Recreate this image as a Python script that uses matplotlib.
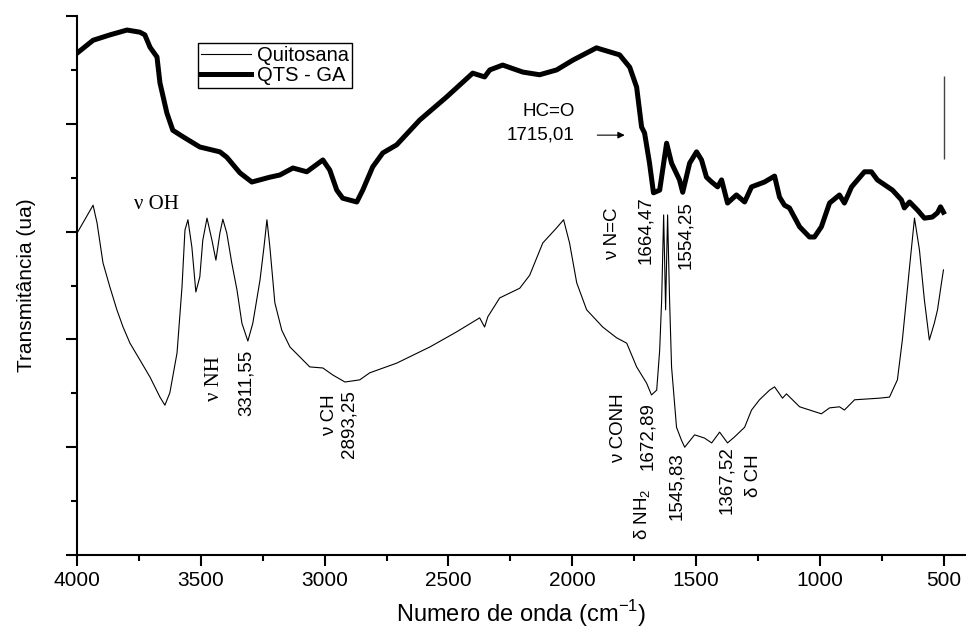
import numpy as np
import matplotlib
matplotlib.use('Agg')
import matplotlib.pyplot as plt
from matplotlib.ticker import MultipleLocator, NullFormatter

plt.rcParams['font.family'] = ['Liberation Sans', 'DejaVu Sans']
plt.rcParams['mathtext.fontset'] = 'custom'
plt.rcParams['mathtext.rm'] = 'Liberation Sans'

# QTS - GA (thick curve), wavenumber (cm-1) and transmittance (ua)
qts_wn = [4000, 3935, 3867, 3798, 3746, 3726, 3705, 3677, 3665, 3637, 3613, 3572,
          3504, 3423, 3395, 3342, 3294, 3221, 3181, 3128, 3072, 3007, 2979, 2951,
          2927, 2870, 2846, 2806, 2765, 2709, 2616, 2507, 2402, 2354, 2333, 2281,
          2200, 2132, 2063, 1998, 1902, 1889, 1809, 1768, 1740, 1720,
          1708, 1688, 1672, 1647, 1619, 1599, 1567, 1554, 1526, 1498, 1478, 1458,
          1437, 1413, 1397, 1373, 1337, 1304, 1276, 1224, 1183, 1163, 1143, 1123,
          1082, 1042, 1022, 994, 961, 921, 901, 872, 820, 792, 768, 707, 671, 659,
          638, 606, 578, 546, 525, 513, 501]
qts_t = [9.31, 9.55, 9.65, 9.74, 9.70, 9.65, 9.42, 9.24, 8.76, 8.20, 7.88, 7.76,
         7.57, 7.48, 7.38, 7.09, 6.92, 7.01, 7.05, 7.18, 7.11, 7.33, 7.14, 6.77,
         6.62, 6.55, 6.77, 7.20, 7.46, 7.61, 8.07, 8.50, 8.94, 8.87, 9.00, 9.09,
         8.96, 8.91, 9.00, 9.18, 9.41, 9.39, 9.28, 9.05, 8.68, 7.94,
         7.83, 7.27, 6.72, 6.77, 7.64, 7.27, 6.96, 6.73, 7.27, 7.48, 7.33, 7.01,
         6.92, 6.83, 6.96, 6.53, 6.68, 6.55, 6.83, 6.92, 7.03, 6.64, 6.49, 6.44,
         6.09, 5.90, 5.90, 6.09, 6.53, 6.68, 6.53, 6.83, 7.11, 7.11, 6.96, 6.77, 6.59, 6.44,
         6.55, 6.40, 6.25, 6.27, 6.35, 6.46, 6.36]

# Quitosana (thin curve)
qui_wn = [4000, 3935, 3919, 3895, 3867, 3839, 3814, 3786, 3746, 3705, 3665, 3645,
          3625, 3596, 3576, 3564, 3552, 3536, 3520, 3504, 3492, 3475, 3455, 3439,
          3423, 3411, 3395, 3375, 3354, 3334, 3310, 3290, 3261, 3245, 3233, 3221,
          3201, 3173, 3140, 3060, 3007, 2967, 2918, 2858, 2818, 2709, 2575, 2467,
          2374, 2354, 2341, 2293, 2212, 2172, 2119, 2063, 2035, 2011, 1982, 1942,
          1877, 1821, 1780, 1740, 1700, 1680, 1659, 1647, 1639, 1631, 1627,
          1623, 1619, 1615, 1607, 1599, 1579, 1559, 1546, 1506, 1466, 1437, 1405,
          1373, 1345, 1304, 1276, 1244, 1203, 1183, 1151, 1135, 1082, 994, 961,
          921, 901, 860, 760, 719, 687, 667, 651, 638, 618, 598, 578, 558, 538,
          525, 509, 501]
qui_t = [5.97, 6.49, 6.16, 5.42, 4.97, 4.55, 4.23, 3.93, 3.62, 3.30, 2.93, 2.78,
         3.01, 3.75, 4.97, 6.03, 6.22, 5.71, 4.88, 5.16, 5.84, 6.25, 5.84, 5.47,
         5.97, 6.23, 5.97, 5.42, 4.92, 4.30, 3.97, 4.30, 5.10, 5.71, 6.22, 5.71,
         4.68, 4.17, 3.86, 3.49, 3.47, 3.34, 3.21, 3.25, 3.38, 3.56, 3.86, 4.14,
         4.40, 4.23, 4.42, 4.77, 4.95, 5.19, 5.79, 6.07, 6.22, 5.79, 5.05, 4.55,
         4.23, 4.03, 3.93, 3.49, 3.19, 2.97, 3.06, 3.80, 4.73, 6.31, 5.47,
         4.55, 5.47, 6.31, 4.73, 3.49, 2.37, 2.13, 2.00, 2.23, 2.17, 2.08, 2.28,
         2.08, 2.19, 2.37, 2.69, 2.88, 3.06, 3.12, 2.91, 2.99, 2.75, 2.62, 2.73,
         2.75, 2.69, 2.88, 2.91, 2.93, 3.25, 3.99, 4.73, 5.34, 6.25, 5.66, 4.73, 3.99, 4.30,
         4.55, 5.05, 5.29]

# vertical segment at the end of the spectrum
seg_wn = 500
seg_t = [7.35, 8.89]

fig = plt.figure(figsize=(9.66, 6.28), dpi=100)
ax = fig.add_axes([0.0797, 0.1162, 0.9203, 0.8583])

ax.plot(qui_wn, qui_t, color='black', lw=0.8, label='Quitosana')
ax.plot(qts_wn, qts_t, color='black', lw=3.6, solid_joinstyle='round', label='QTS - GA')
ax.vlines(seg_wn, seg_t[0], seg_t[1], color='#444444', lw=1)

ax.set_xlim(4000, 410)
ax.set_ylim(0, 10)
ax.xaxis.set_major_locator(MultipleLocator(500))
ax.xaxis.set_minor_locator(MultipleLocator(250))
ax.yaxis.set_major_locator(MultipleLocator(2))
ax.yaxis.set_minor_locator(MultipleLocator(1))
ax.yaxis.set_major_formatter(NullFormatter())
ax.spines['top'].set_visible(False)
ax.spines['right'].set_visible(False)
for s in ['left', 'bottom']:
    ax.spines[s].set_linewidth(1.5)
ax.tick_params(which='major', direction='out', length=8, width=1.5, labelsize=15)
ax.tick_params(which='minor', direction='out', length=4, width=1.5)

ax.set_xlabel('Numero de onda (cm$^{\\mathregular{-1}}$)', fontsize=17, labelpad=6)
ax.set_ylabel('Transmitância (ua)', fontsize=15, labelpad=18)

leg = ax.legend(loc='upper left', bbox_to_anchor=(0.136, 0.95), fontsize=14.5,
                frameon=True, fancybox=False, edgecolor='black', framealpha=1,
                handlelength=2.5, handletextpad=0.3, labelspacing=0.05,
                borderpad=0.15, borderaxespad=0)
leg.get_frame().set_linewidth(1)

serif = ['Liberation Serif', 'DejaVu Serif']
ax.text(3681, 6.51, 'ν OH', family=serif, fontsize=15, ha='center', va='center')
ax.text(3443, 3.28, 'ν NH', family=serif, fontsize=15, ha='center', va='center', rotation=90)
ax.text(3318, 3.19, '3311,55', fontsize=13.5, ha='center', va='center', rotation=90)
ax.text(2979, 2.60, 'ν CH', fontsize=13.5, ha='center', va='center', rotation=90)
ax.text(2902, 2.43, '2893,25', fontsize=13.5, ha='center', va='center', rotation=90)
ax.text(1990, 8.22, 'HC=O', fontsize=13.5, ha='right', va='center')
ax.text(1990, 7.79, '1715,01', fontsize=13.5, ha='right', va='center')
ax.annotate('', xy=(1777, 7.79), xytext=(1910, 7.79),
            arrowprops=dict(arrowstyle='-|>', color='black', lw=0.8, mutation_scale=10))
ax.text(1837, 5.96, 'ν N=C', fontsize=13.5, ha='center', va='center', rotation=90)
ax.text(1704, 6.03, '1664,47', fontsize=13.5, ha='center', va='center', rotation=90)
ax.text(1542, 5.94, '1554,25', fontsize=13.5, ha='center', va='center', rotation=90)
ax.text(1813, 2.36, 'ν CONH', fontsize=13.5, ha='center', va='center', rotation=90)
ax.text(1696, 2.21, '1672,89', fontsize=13.5, ha='center', va='center', rotation=90)
ax.text(1716, 0.76, 'δ NH$_\\mathregular{2}$', fontsize=13.5, ha='center', va='center', rotation=90)
ax.text(1579, 1.28, '1545,83', fontsize=13.5, ha='center', va='center', rotation=90)
ax.text(1377, 1.39, '1367,52', fontsize=13.5, ha='center', va='center', rotation=90)
ax.text(1268, 1.47, 'δ CH', fontsize=13.5, ha='center', va='center', rotation=90)

fig.savefig('out.png', dpi=100)
